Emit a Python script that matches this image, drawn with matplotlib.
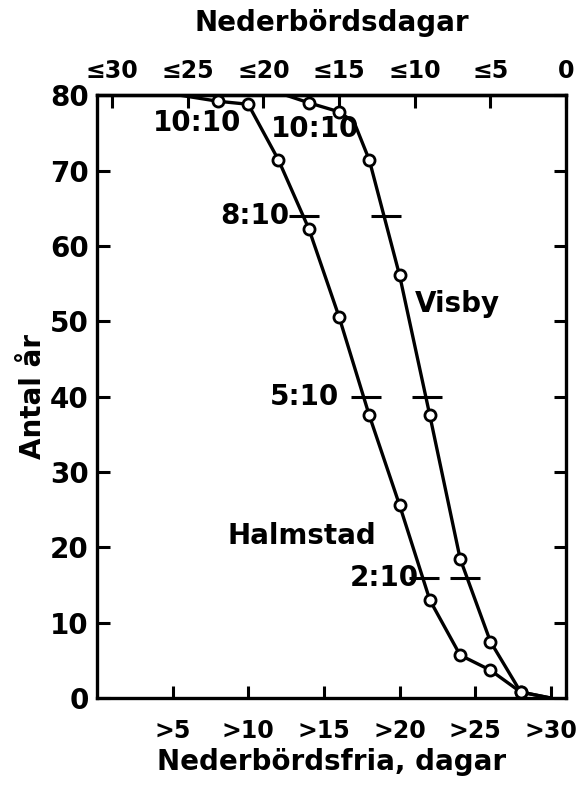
import matplotlib
matplotlib.use("Agg")
import matplotlib.pyplot as plt

plt.rcParams['font.family'] = ['DejaVu Sans']
plt.rcParams['font.weight'] = 'bold'
plt.rcParams['axes.labelweight'] = 'bold'

# Halmstad: nederbördsfria dagar vs antal år
halm_x = [8, 10, 12, 14, 16, 18, 20, 22, 24, 26, 28]
halm_y = [79.2, 78.8, 71.4, 62.3, 50.6, 37.5, 25.6, 13.0, 5.7, 3.7, 0.8]
# Visby
visby_x = [14, 16, 18, 20, 22, 24, 26, 28]
visby_y = [79.0, 77.8, 71.4, 56.1, 37.5, 18.5, 7.5, 0.8]

# line ends (curve runs along top and bottom edges)
halm_start = (5.5, 80)
visby_start = (12.5, 80)
visby_bend = (17, 76.4)
curve_end = (30, 0)

# 8:10, 5:10, 2:10 marks
frac_labels = ['8:10', '5:10', '2:10']
frac_y = [64, 40, 16]
frac_label_x = [12.7, 16.0, 21.3]
halm_frac_x = [13.7, 17.75, 21.6]
visby_frac_x = [19.1, 21.8, 24.3]

bottom_ticks = [5, 10, 15, 20, 25, 30]
bottom_labels = ['>5', '>10', '>15', '>20', '>25', '>30']
top_ticks = [1, 6, 11, 16, 21, 26, 31]
top_labels = ['≤30', '≤25', '≤20', '≤15', '≤10', '≤5', '0']
y_ticks = [0, 10, 20, 30, 40, 50, 60, 70, 80]

fig = plt.figure(figsize=(5.8, 7.87), dpi=100)
ax = fig.add_axes([0.167, 0.113, 0.809, 0.766])

hx = [halm_start[0]] + halm_x + [curve_end[0]]
hy = [halm_start[1]] + halm_y + [curve_end[1]]
vx = [visby_start[0]] + visby_x[:2] + [visby_bend[0]] + visby_x[2:] + [curve_end[0]]
vy = [visby_start[1]] + visby_y[:2] + [visby_bend[1]] + visby_y[2:] + [curve_end[1]]

ax.plot(hx, hy, color='black', lw=2.4, zorder=2)
ax.plot(vx, vy, color='black', lw=2.4, zorder=2)
ax.plot(halm_x, halm_y, 'o', ms=8, mfc='white', mec='black', mew=2, zorder=3)
ax.plot(visby_x, visby_y, 'o', ms=8, mfc='white', mec='black', mew=2, zorder=3)

ax.plot(halm_frac_x, frac_y, '_', ms=21, mew=2.2, color='black', zorder=4)
ax.plot(visby_frac_x, frac_y, '_', ms=21, mew=2.2, color='black', zorder=4)

fs = 20
for lab, x, y in zip(frac_labels, frac_label_x, frac_y):
    ax.text(x, y, lab, ha='right', va='center', fontsize=fs)
ax.text(3.7, 76.3, '10:10', ha='left', va='center', fontsize=fs)
ax.text(11.5, 75.5, '10:10', ha='left', va='center', fontsize=fs)
ax.text(21.0, 52.3, 'Visby', ha='left', va='center', fontsize=fs)
ax.text(8.6, 21.5, 'Halmstad', ha='left', va='center', fontsize=fs)

ax.set_xlim(0, 31)
ax.set_ylim(0, 80)
ax.set_xticks(bottom_ticks)
ax.set_xticklabels(bottom_labels, fontsize=17)
ax.set_yticks(y_ticks)
ax.set_yticklabels([str(v) for v in y_ticks], fontsize=fs)
ax.tick_params(direction='in', length=9, width=2.2, right=True, pad=6)
ax.tick_params(axis='x', pad=15)

top = ax.secondary_xaxis('top')
top.set_xticks(top_ticks)
top.set_xticklabels(top_labels, fontsize=17)
top.tick_params(direction='in', length=9, width=2.2, pad=9)
top.set_xlabel('Nederbördsdagar', fontsize=fs, labelpad=20)

ax.set_xlabel('Nederbördsfria, dagar', fontsize=fs, labelpad=4)
ax.set_ylabel('Antal år', fontsize=fs, labelpad=2)

for sp in list(ax.spines.values()) + list(top.spines.values()):
    sp.set_linewidth(2.4)

fig.savefig('out.png', dpi=100)
